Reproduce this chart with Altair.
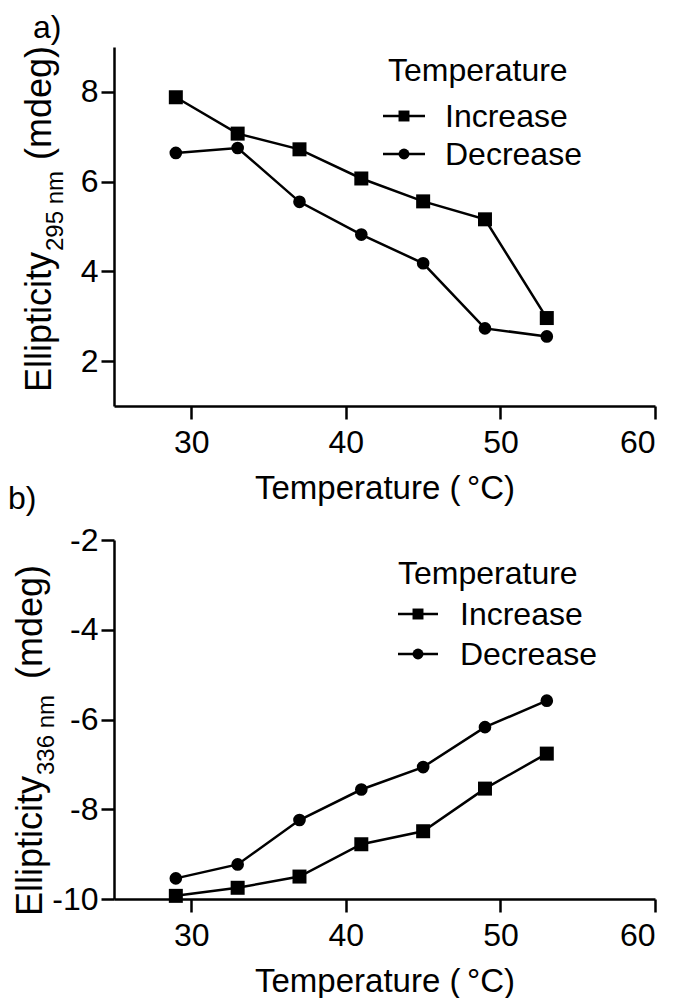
import altair as alt
import pandas as pd

temps = [29, 33, 37, 41, 45, 49, 53]
series = ["Increase", "Decrease"]
a_increase = [7.88, 7.07, 6.72, 6.07, 5.56, 5.16, 2.96]
a_decrease = [6.64, 6.75, 5.55, 4.82, 4.18, 2.73, 2.55]
b_increase = [-9.93, -9.75, -9.50, -8.78, -8.49, -7.54, -6.76]
b_decrease = [-9.54, -9.23, -8.24, -7.56, -7.06, -6.17, -5.58]
x_ticks = [30, 40, 50, 60]
a_y_ticks = [2, 4, 6, 8]
b_y_ticks = [-10, -8, -6, -4, -2]

FONT = "Liberation Sans"
FS = 32
W, H = 541, 359

# widths of the title pieces in em (Arial metrics)
EM_ELL = 3.889
EM_SUB = 3.335


def frame(inc, dec):
    return pd.DataFrame({
        "temp": temps + temps,
        "value": inc + dec,
        "series": [series[0]] * len(temps) + [series[1]] * len(temps),
    })


def txt(s, x, y, size=FS, angle=0, align="left", baseline="alphabetic"):
    kw = dict(font=FONT, fontSize=size, color="black", align=align, baseline=baseline)
    if angle:
        kw["angle"] = angle
    return alt.Chart(pd.DataFrame({"t": [s]})).mark_text(**kw).encode(
        text="t:N", x=alt.value(x), y=alt.value(y))


def panel(df, ydomain, yticks, labels, sub, yt, leg):
    xs = alt.X("temp:Q", scale=alt.Scale(domain=[25, 60], nice=False),
               axis=alt.Axis(values=x_ticks, title="Temperature (\u2009°C)", format="d"))
    ys = alt.Y("value:Q", scale=alt.Scale(domain=ydomain, nice=False, zero=False),
               axis=alt.Axis(values=yticks, title=None, labelExpr="'' + datum.value"))
    base = alt.Chart(df)
    line = base.mark_line(color="black", strokeWidth=2.5).encode(
        x=xs, y=ys, detail="series:N")
    pts = base.mark_point(filled=True, color="black", opacity=1).encode(
        x=xs, y=ys,
        shape=alt.Shape("series:N", scale=alt.Scale(domain=series, range=["square", "circle"]), legend=None),
        size=alt.Size("series:N", scale=alt.Scale(domain=series, range=[196, 160]), legend=None),
    )
    data_layer = alt.layer(line, pts)

    # legend
    lx0, lx1, lsym, ltext, ltitle_x, ltitle_y, r0, r1 = leg
    ldf = pd.DataFrame({"series": series})
    ly = alt.Y("series:N", scale=alt.Scale(type="point", domain=series, range=[r0, r1], padding=0), axis=None)
    lbase = alt.Chart(ldf)
    lrule = lbase.mark_rule(color="black", strokeWidth=2.5).encode(
        x=alt.value(lx0), x2=alt.value(lx1), y=ly)
    lpts = lbase.mark_point(filled=True, color="black", opacity=1).encode(
        x=alt.value(lsym), y=ly,
        shape=alt.Shape("series:N", scale=alt.Scale(domain=series, range=["square", "circle"]), legend=None),
        size=alt.value(120))
    ltxt = lbase.mark_text(font=FONT, fontSize=FS, align="left", baseline="middle", color="black", dy=1).encode(
        x=alt.value(ltext), y=ly, text="series:N")
    legend_layer = alt.layer(lrule, lpts, ltxt)

    # y title pieces
    main_x, sub_x, y0, tf, sf, gap = yt
    e_w = EM_ELL * tf
    s_w = EM_SUB * sf
    t1 = txt("Ellipticity", main_x, y0, size=tf, angle=270)
    t2 = txt(sub, sub_x, y0 - e_w - 1, size=sf, angle=270)
    t3 = txt("(mdeg)", main_x, y0 - e_w - 1 - s_w - gap, size=tf, angle=270)
    ttl = txt("Temperature", ltitle_x, ltitle_y)
    labs = [txt(s, x, y, size=32) for s, x, y in labels]

    return alt.layer(data_layer, legend_layer, t1, t2, t3, ttl, *labs).resolve_scale(
        y="independent").properties(width=W, height=H)


pa = panel(frame(a_increase, a_decrease), [1, 9], a_y_ticks,
           [("a)", -81, -9), ("b)", -106, 462)], "295 nm",
           (-63, -51, 345, 36, 24, 11), (269, 311, 290, 331, 274, 34, 69, 107))
pb = panel(frame(b_increase, b_decrease), [-10, -2], b_y_ticks,
           [], "336 nm",
           (-72, -60, 376, 36, 24, 16), (284, 324, 304, 346, 284, 44, 74, 114))

chart = alt.vconcat(pa, pb, spacing=9).properties(
    padding={"top": 4, "left": 0, "right": 0, "bottom": 0}
).configure_view(stroke=None).configure_axis(
    domainColor="black", domainWidth=2.5, tickColor="black", tickWidth=2.5, tickSize=13,
    labelColor="black", labelFont=FONT, labelFontSize=FS, labelPadding=3,
    titleColor="black", titleFont=FONT, titleFontSize=33, titleFontWeight="normal",
    grid=False,
).configure_axisX(labelPadding=8, titlePadding=14)

chart.save("out.html", embed_options={"renderer": "svg", "actions": False})
